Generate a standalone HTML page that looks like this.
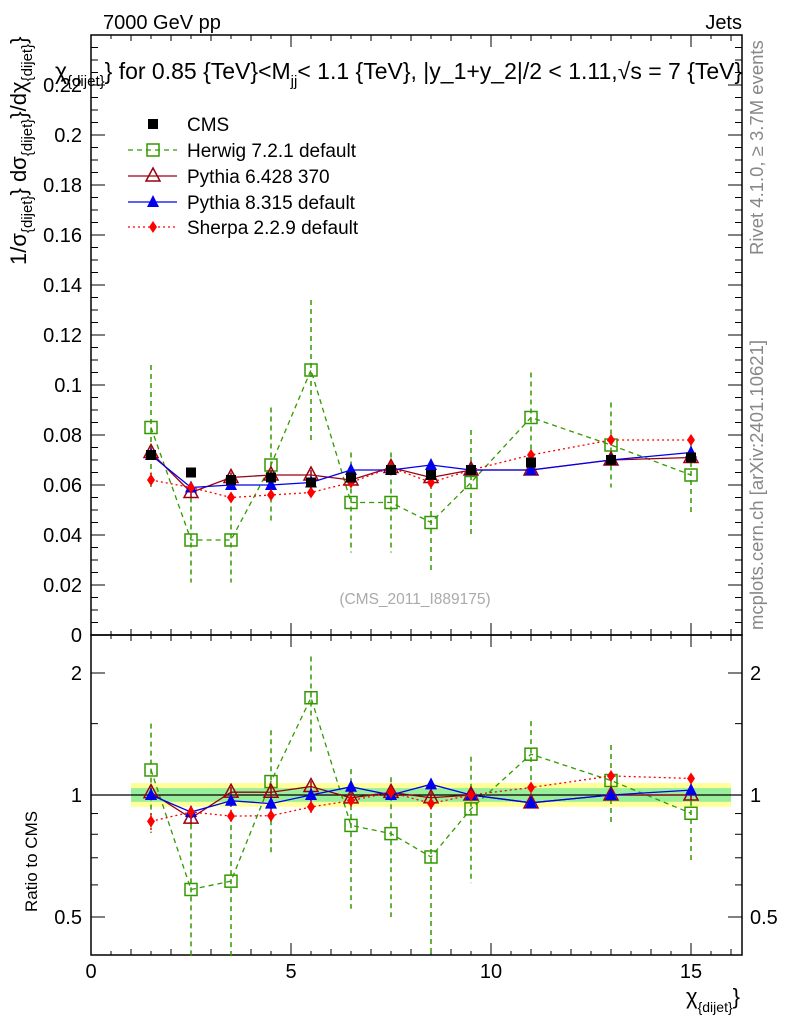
<!DOCTYPE html>
<html><head><meta charset="utf-8"><style>
body{margin:0;background:#fff;}
svg{display:block;font-family:"Liberation Sans",sans-serif;}
</style></head><body>
<svg id="c" width="786" height="1024" viewBox="0 0 786 1024">
<text x="103" y="29" font-size="20">7000 GeV pp</text>
<text x="742" y="29" font-size="20" text-anchor="end">Jets</text>
<text transform="translate(763,255) rotate(-90)" font-size="18.5" fill="#888">Rivet 4.1.0, ≥ 3.7M events</text>
<text transform="translate(763,630) rotate(-90)" font-size="18.5" fill="#888">mcplots.cern.ch [arXiv:2401.10621]</text>
<text x="415" y="604" font-size="15.5" fill="#aaa" text-anchor="middle">(CMS_2011_I889175)</text>
<g id="band"></g>
<g id="axes"></g>
<g id="marks"></g>
<text x="55" y="79" font-size="23">χ<tspan font-size="15" dy="7">{dijet}</tspan><tspan dy="-7">} for 0.85 {TeV}&lt;M</tspan><tspan font-size="15" dy="7">jj</tspan><tspan dy="-7">&lt; 1.1 {TeV}, |y_1+y_2|/2 &lt; 1.11,√s = 7 {TeV}</tspan></text>
<text transform="translate(26,265) rotate(-90)" font-size="22">1/σ<tspan font-size="15" dy="6">{dijet}</tspan><tspan dy="-6">} dσ</tspan><tspan font-size="15" dy="6">{dijet}</tspan><tspan dy="-6">}/dχ</tspan><tspan font-size="15" dy="6">{dijet}</tspan><tspan dy="-6">}</tspan></text>
<text transform="translate(37,912) rotate(-90)" font-size="17">Ratio to CMS</text>
<text x="740" y="1004" font-size="22" text-anchor="end">χ<tspan font-size="14" dy="8">{dijet}</tspan><tspan dy="-8">}</tspan></text>
<g id="legend"></g>
</svg>
<script>
const xs=[1.5,2.5,3.5,4.5,5.5,6.5,7.5,8.5,9.5,11,13,15];
const cms=[0.072,0.065,0.062,0.063,0.061,0.063,0.066,0.064,0.066,0.069,0.070,0.071];
const herwig=[0.083,0.038,0.038,0.068,0.106,0.053,0.053,0.045,0.061,0.087,0.076,0.064];
const herwigErr=[0.025,0.017,0.017,0.023,0.028,0.020,0.020,0.019,0.021,0.018,0.017,0.016];
const py6=[0.073,0.057,0.063,0.064,0.064,0.062,0.067,0.063,0.066,0.066,0.070,0.071];
const py6Err=[0.002,0.002,0.002,0.002,0.002,0.002,0.002,0.002,0.002,0.002,0.002,0.002];
const py8=[0.072,0.059,0.060,0.060,0.061,0.066,0.066,0.068,0.066,0.066,0.070,0.073];
const py8Err=[0.002,0.002,0.002,0.002,0.002,0.002,0.002,0.002,0.002,0.002,0.002,0.002];
const sherpa=[0.062,0.059,0.055,0.056,0.057,0.061,0.067,0.061,0.066,0.072,0.078,0.078];
const sherpaErr=[0.003,0.002,0.002,0.002,0.002,0.002,0.002,0.002,0.002,0.002,0.002,0.002];
const yTicks=[0,0.02,0.04,0.06,0.08,0.1,0.12,0.14,0.16,0.18,0.2,0.22];
const yTickLabels=["0","0.02","0.04","0.06","0.08","0.1","0.12","0.14","0.16","0.18","0.2","0.22"];
const xTicks=[0,5,10,15];
const rTicks=[0.5,1,2];

const NS="http://www.w3.org/2000/svg";
const L=91,R=742,T=35,MB=635,RB=955;
const X=v=>L+(v-0)/(16.275)*(R-L);
const Y=v=>MB-v/0.24*(MB-T);
const RY=v=>795-Math.log2(v)*122;
function el(tag,attrs,parent){const e=document.createElementNS(NS,tag);for(const k in attrs)e.setAttribute(k,attrs[k]);parent.appendChild(e);return e;}
const axes=document.getElementById('axes'),marks=document.getElementById('marks'),band=document.getElementById('band'),leg=document.getElementById('legend');

let b1=el('rect',{x:X(1),y:RY(1.07),width:X(16)-X(1),height:RY(0.935)-RY(1.07),fill:'#ffff99'},band);


let b2=el('rect',{x:X(1),y:RY(1.04),width:X(16)-X(1),height:RY(0.962)-RY(1.04),fill:'#99ee99'},band);


el('line',{x1:L,x2:R,y1:RY(1),y2:RY(1),stroke:'#000','stroke-width':1.2},band);

el('rect',{x:L,y:T,width:R-L,height:MB-T,fill:'none',stroke:'#000','stroke-width':1.5},axes);
el('rect',{x:L,y:MB,width:R-L,height:RB-MB,fill:'none',stroke:'#000','stroke-width':1.5},axes);
for(let v=0;v<=16.2;v+=0.5){const len=(v%5===0)?12:(v%1===0?6:4);
 for(const [y0,d] of [[MB,-1],[T,1],[RB,-1],[MB,1]]) el('line',{x1:X(v),x2:X(v),y1:y0,y2:y0+d*len,stroke:'#000'},axes);}
xTicks.forEach(v=>{const t=el('text',{x:X(v),y:978,'font-size':20,'text-anchor':'middle'},axes);t.textContent=v;
 
 });
for(let v=0;v<=0.2401;v+=0.005){const big=Math.round(v*1000)%20===0;const len=big?14:7;
 el('line',{x1:L,x2:L+len,y1:Y(v),y2:Y(v),stroke:'#000'},axes);el('line',{x1:R,x2:R-len,y1:Y(v),y2:Y(v),stroke:'#000'},axes);}
yTicks.forEach((v,i)=>{const t=el('text',{x:82,y:Y(v)+7,'font-size':20,'text-anchor':'end'},axes);t.textContent=yTickLabels[i];
 
 });
[0.5,0.6,0.7,0.8,0.9,1,1.5,2].forEach(v=>{const big=rTicks.includes(v);const len=big?14:7;
 el('line',{x1:L,x2:L+len,y1:RY(v),y2:RY(v),stroke:'#000'},axes);el('line',{x1:R,x2:R-len,y1:RY(v),y2:RY(v),stroke:'#000'},axes);});
rTicks.forEach(v=>{for(const [x,a] of [[82,'end'],[750,'start']]){const t=el('text',{x:x,y:RY(v)+7,'font-size':20,'text-anchor':a},axes);t.textContent=v;
 
 }});

function marker(type,x,y,color,g){
 if(type==='sq') return el('rect',{x:x-5,y:y-5,width:10,height:10,fill:'#000'},g);
 if(type==='osq') return el('rect',{x:x-6,y:y-6,width:12,height:12,fill:'none',stroke:color,'stroke-width':1.5},g);
 if(type==='otri') return el('polygon',{points:`${x},${y-8} ${x-7},${y+5} ${x+7},${y+5}`,fill:'none',stroke:color,'stroke-width':1.5},g);
 if(type==='tri') return el('polygon',{points:`${x},${y-7} ${x-6},${y+5} ${x+6},${y+5}`,fill:color},g);
 if(type==='dia') return el('polygon',{points:`${x},${y-6} ${x-4},${y} ${x},${y+6} ${x+4},${y}`,fill:color},g);
}
const series=[
 {name:'herwig',vals:herwig,err:herwigErr,color:'#339900',m:'osq',dash:'5,4',label:'Herwig 7.2.1 default'},
 {name:'pythia6',vals:py6,err:py6Err,color:'#990011',m:'otri',dash:'',label:'Pythia 6.428 370'},
 {name:'pythia8',vals:py8,err:py8Err,color:'#0000ee',m:'tri',dash:'',label:'Pythia 8.315 default'},
 {name:'sherpa',vals:sherpa,err:sherpaErr,color:'#ff0000',m:'dia',dash:'2,3',label:'Sherpa 2.2.9 default'}];
function clipR(v){return Math.max(0.4,Math.min(2.5,v));}
series.forEach(s=>{
 const g=el('g',{},marks);
 
 
 for(const panel of ['main','ratio']){
  const fy=panel==='main'?(i=>Y(s.vals[i])):(i=>RY(clipR(s.vals[i]/cms[i])));
  const fe=panel==='main'?((i,d)=>Y(s.vals[i]+d*s.err[i])):((i,d)=>RY(clipR((s.vals[i]+d*s.err[i])/cms[i])));
  const pts=xs.map((x,i)=>X(x)+','+fy(i)).join(' ');
  el('polyline',{points:pts,fill:'none',stroke:s.color,'stroke-width':1.3,'stroke-dasharray':s.dash},g);
  xs.forEach((x,i)=>{
   el('line',{x1:X(x),x2:X(x),y1:fe(i,1),y2:fe(i,-1),stroke:s.color,'stroke-width':1.5,'stroke-dasharray':s.dash},g);
   const m=marker(s.m,X(x),fy(i),s.color,g);
   
   
  });
 }
});
const cg=el('g',{},marks);


xs.forEach((x,i)=>{const m=marker('sq',X(x),Y(cms[i]),'#000',cg);
 
 });
const ly=[124,150,176,202,227];
let e0=el('g',{},leg);


marker('sq',153,ly[0],'#000',e0);
el('text',{x:187,y:ly[0]+7,'font-size':19},e0).textContent='CMS';
series.forEach((s,k)=>{const g=el('g',{},leg);
 
 
 const y=ly[k+1];
 el('line',{x1:128,x2:177,y1:y,y2:y,stroke:s.color,'stroke-width':1.3,'stroke-dasharray':s.dash},g);
 marker(s.m,153,y,s.color,g);
 el('text',{x:187,y:y+7,'font-size':19},g).textContent=s.label;});
</script>
</body></html>
